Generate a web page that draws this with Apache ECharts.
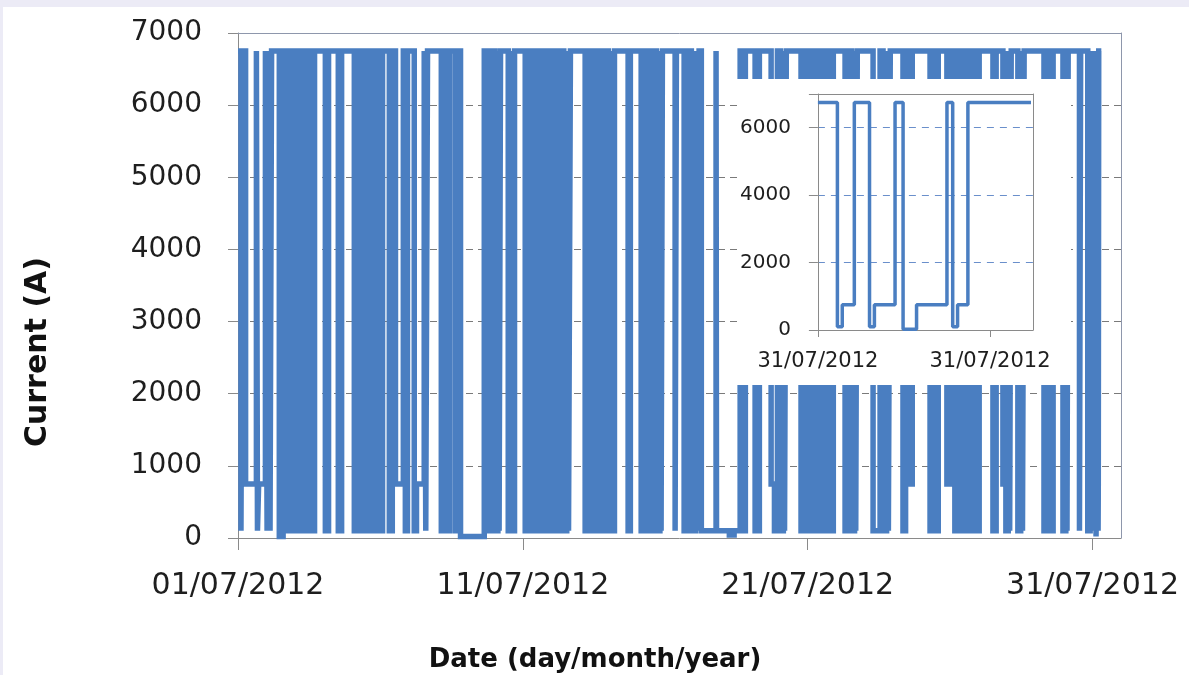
<!DOCTYPE html>
<html>
<head>
<meta charset="utf-8">
<script src="https://cdn.jsdelivr.net/npm/echarts@6/dist/echarts.min.js"></script>
<style>
  html, body { margin: 0; padding: 0; width: 1189px; height: 675px; overflow: hidden; background: #ECEBF6; }
  #paper { position: absolute; left: 3px; top: 7px; width: 1186px; height: 668px; background: #ffffff; }
  #main  { position: absolute; left: 0; top: 0; width: 1189px; height: 675px; }
  #inset { position: absolute; left: 737px; top: 79px; width: 334px; height: 306px; background: #ffffff; }
</style>
</head>
<body>
<div id="paper"></div>
<div id="main"></div>
<div id="inset"></div>
<script>
// Current log, July 2012. Each point is [hours since 01/07/2012 00:00, current in A];
// the value holds until the next point (step line).
const week1 = [
  [0,6750],[2.5,100],[4,6750],[6.4,750],
  [15.5,6750],[16.4,100],[17.4,750],
  [23.1,6750],[24.5,100],[26,6750],[27,100],[28.3,6750],
  [34.8,20],[38,6750],[41,100],[44.5,6750],[47.5,100],[51,6750],[54,100],[57.5,6750],[61,100],[64.5,6750],
  [73.6,100],[76.3,6750],
  [84.5,100],[87.3,6750],
  [98,100],[101.5,6750],[104.5,100],[108,6750],[111,100],[114.5,6750],[117.5,100],[121.8,6750],
  [127.5,100],[130,6750],[132.7,750],
  [139.3,6750],[141,100],[142.8,6750],
  [148.5,100],[150.4,750],
  [156.9,6750],[158.2,100],[159.7,6750]
];
const week2 = [
  [171.3,100],[174.5,6750],[176.3,100],[178.2,6750],
  [183,100],[185,6750],[187.5,20],
  [207.5,6750],[210.5,100],[213.5,6750],[216.5,100],[219,6750],[220,100],[221.2,6750],
  [227.7,100],[229.5,6750],[231,100],[233,6750],
  [242,100],[245.5,6750],[248.5,100],[252,6750],[255,100],[258.5,6750],[261.5,100],[265,6750],
  [268,100],[271.5,6750],[274.5,100],[277,6750],[278.5,100],[280.1,6750],
  [292.5,100],[296,6750],[299,100],[302.5,6750],[305.5,100],[309,6750],[312,100],[314.5,6750],[315.5,100],[317.2,6750],
  [328.7,100],[330.6,6750]
];
const week3 = [
  [339.7,100],[343,6750],[346,100],[349.5,6750],[352.5,100],[355.5,6750],[356.5,100],[357.6,6750],
  [368.3,100],[369.4,6750],
  [375.9,100],[379,6750],[382,100],[385.5,6750],[387,100],[388.5,6750],[390.4,100],
  [402.8,6750],[403.2,100],[414,40],[418,100],
  [423.1,6750],[425,100],[427.5,6750],
  [435.7,100],[439.3,6750],
  [449.2,750],[452,100],[454.5,6750],[457,100],[459.5,6750],[460.5,100],[462,6750],
  [474.4,100],[477.5,6750],[480.5,100],[484,6750],[487,100],[490.5,6750],[493.5,100],[497,6750],[499.5,100],[501.6,6750]
];
const week4 = [
  [511.5,100],[514.5,6750],[517,100],[519.5,6750],[520.5,100],[521.8,6750],
  [535.1,100],[541,6750],[543.5,100],[546.5,6750],[548,100],[549.6,6750],
  [560.3,100],[562.5,6750],[564.5,750],[568.1,6750],
  [583.1,100],[585.5,6750],[587.5,100],[590,6750],
  [597.3,750],[601,6750],[604,100],[607.5,6750],[610.5,100],[614,6750],[617,100],[620.5,6750],[622.5,100],[624.5,6750],
  [636.1,100],[638.8,6750],
  [644.5,750],[647,100],[649,6750],[650.2,100],[651.5,6750],
  [657.1,100],[659.5,6750],[661,100],[662.4,6750],
  [679.1,100],[682,6750],[684.5,100],[686.8,6750],
  [695.1,100],[697.5,6750],[698.5,100],[699.5,6750],
  [709,100],[710,6750],
  [716,100],[718,6750],[719,100]
];
// 31/07/2012, hours since midnight (also shown enlarged in the inset)
const lastDay = [
  [0,6750],[0.68,100],[0.85,750],[1.27,6750],[1.8,100],[1.97,750],[2.69,6750],
  [2.97,20],[3.44,750],[4.5,6750],[4.7,100],[4.87,750],[5.23,6750],[7.43,6750]
];
const lastDayStart = 720;            // 31/07/2012 00:00 in hours since 01/07
const mainTicks = [0, 240, 480, 720]; // 01/07, 11/07, 21/07, 31/07
const insetTicks = [0, 6];
const insetYTicks = [0, 2000, 4000, 6000];

const BLUE = '#4A7EC1';
const AXIS = '#8A8A8A';
const FRAME = '#8E97AC';
const TEXT = '#1E1E1E';
const FONT = 'DejaVu Sans';
const START_UTC = Date.UTC(2012, 6, 1);

function dateLabel(hours) {
  const d = new Date(START_UTC + hours * 3600000);
  const p = n => String(n).padStart(2, '0');
  return p(d.getUTCDate()) + '/' + p(d.getUTCMonth() + 1) + '/' + d.getUTCFullYear();
}
const plain = v => String(v);

// plain line along the top / right edge of a plot area
function frameAxis(position, min, max, color) {
  return {
    type: 'value', position: position, min: min, max: max, z: 5,
    axisLine: { show: true, onZero: false, lineStyle: { color: color, width: 1 } },
    axisTick: { show: false }, axisLabel: { show: false }, splitLine: { show: false }
  };
}

const monthSeries = [].concat(week1, week2, week3, week4,
  lastDay.map(([h, v]) => [lastDayStart + h, v]));

const main = echarts.init(document.getElementById('main'), null, { renderer: 'canvas' });
main.setOption({
  animation: false,
  grid: { left: 238, top: 33, right: 68, bottom: 137, show: false },
  xAxis: [{
    type: 'value', min: 0, max: 744, interval: 240,
    axisLine: { show: true, onZero: false, lineStyle: { color: AXIS, width: 1 } },
    axisTick: { show: true, length: 12, lineStyle: { color: AXIS }, customValues: mainTicks },
    axisLabel: { margin: 33, fontSize: 30, fontFamily: FONT, color: TEXT,
                 customValues: mainTicks, formatter: v => dateLabel(v) },
    splitLine: { show: false }
  }, frameAxis('top', 0, 744, FRAME)],
  yAxis: [{
    type: 'value', min: 0, max: 7000, interval: 1000,
    axisLine: { show: true, onZero: false, lineStyle: { color: AXIS, width: 1 } },
    axisTick: { show: true, length: 10, lineStyle: { color: AXIS } },
    axisLabel: { margin: 36, fontSize: 28, fontFamily: FONT, color: TEXT, formatter: plain },
    splitLine: { show: true, lineStyle: { type: [7, 5], color: '#7A7A7A', width: 1 } }
  }, frameAxis('right', 0, 7000, FRAME)],
  graphic: [
    { type: 'text', x: 38, y: 352, rotation: Math.PI / 2,
      style: { text: 'Current (A)', font: 'bold 30px "DejaVu Sans"', fill: '#111',
               textAlign: 'center', textVerticalAlign: 'middle', align: 'center', verticalAlign: 'middle' } },
    { type: 'text', x: 595, y: 660,
      style: { text: 'Date (day/month/year)', font: 'bold 26px "DejaVu Sans"', fill: '#111',
               textAlign: 'center', textVerticalAlign: 'middle', align: 'center', verticalAlign: 'middle' } }
  ],
  series: [{
    type: 'line', step: 'end', data: monthSeries, xAxisIndex: 0, yAxisIndex: 0,
    showSymbol: false, symbol: 'none',
    lineStyle: { width: 5.5, color: BLUE, join: 'miter' }, itemStyle: { color: BLUE }
  }]
});

const inset = echarts.init(document.getElementById('inset'), null, { renderer: 'canvas' });
inset.setOption({
  animation: false,
  grid: { left: 80, top: 15, right: 38, bottom: 55, show: false },
  xAxis: [{
    type: 'value', min: 0, max: 7.5, interval: 6,
    axisLine: { show: true, onZero: false, lineStyle: { color: AXIS } },
    axisTick: { show: true, length: 7, lineStyle: { color: AXIS }, customValues: insetTicks },
    axisLabel: { margin: 21, fontSize: 21, fontFamily: FONT, color: TEXT,
                 customValues: insetTicks, formatter: v => dateLabel(lastDayStart + v) },
    splitLine: { show: false }
  }, frameAxis('top', 0, 7.5, AXIS)],
  yAxis: [{
    type: 'value', min: 0, max: 7000, interval: 2000,
    axisLine: { show: true, onZero: false, lineStyle: { color: AXIS } },
    axisTick: { show: true, length: 9, lineStyle: { color: AXIS } },
    axisLabel: { margin: 27, fontSize: 20, fontFamily: FONT, color: TEXT,
                 customValues: insetYTicks, formatter: plain },
    splitLine: { show: true, lineStyle: { type: [7, 6], color: '#6A8FCB', width: 1 } }
  }, frameAxis('right', 0, 7000, AXIS)],
  series: [{
    type: 'line', step: 'end', data: lastDay, xAxisIndex: 0, yAxisIndex: 0,
    showSymbol: false, symbol: 'none',
    lineStyle: { width: 3.5, color: BLUE }, itemStyle: { color: BLUE }
  }]
});
</script>
</body>
</html>
